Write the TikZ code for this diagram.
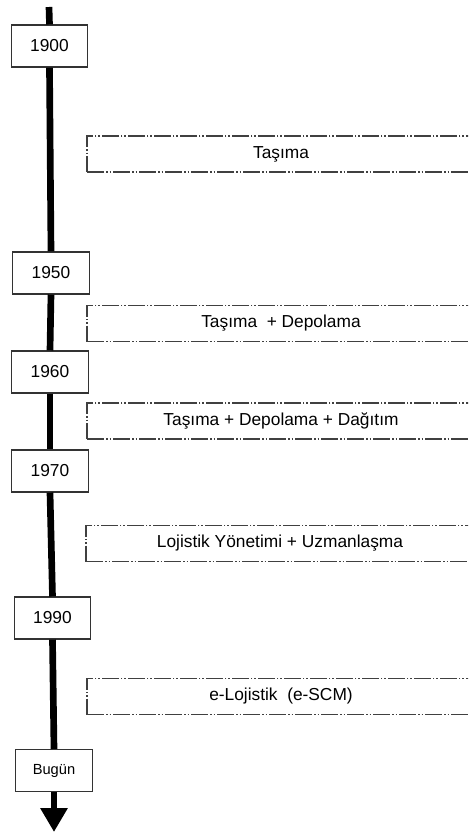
\documentclass[tikz,border=0pt]{standalone}
\usepackage{fontspec}
\setmainfont{Liberation Sans}
\usetikzlibrary{arrows.meta}
\begin{document}
\begin{tikzpicture}[x=0.75pt,y=-0.75pt,
  yearbox/.style={draw=black!80,line width=0.8pt,fill=white,
    minimum width=57.5pt,minimum height=31.5pt,inner sep=0pt,
    font=\fontsize{13}{15}\selectfont},
  periodbox/.style={draw=black!75,line width=0.9pt,fill=white,
    dash pattern=on 13pt off 1.5pt on 1pt off 1.5pt on 1pt off 1.5pt,
    minimum width=291pt,minimum height=27pt,inner sep=0pt,
    font=\fontsize{13}{15}\selectfont},
  timeline/.style={line width=5pt,black}]
\useasboundingbox (0,0) rectangle (468,832);
\clip (0,0) rectangle (468,832);

% time axis ends
\coordinate (top) at (49,7);
\coordinate (tip) at (54,832);

% year markers
\node[yearbox] (y1900) at (49.5,46) {1900};
\node[yearbox] (y1950) at (51,273) {1950};
\node[yearbox] (y1960) at (50,372) {1960};
\node[yearbox] (y1970) at (50,471) {1970};
\node[yearbox] (y1990) at (52.5,618) {1990};
\node[yearbox,font=\fontsize{11}{13}\selectfont] (today) at (54,770.5) {Bugün};

% axis segments between the markers
\draw[timeline] (top) -- (y1900.north);
\draw[timeline] (y1900.south) -- (y1950.north);
\draw[timeline] (y1950.south) -- (y1960.north);
\draw[timeline] (y1960.south) -- (y1970.north);
\draw[timeline] (y1970.south) -- (y1990.north);
\draw[timeline] (y1990.south) -- (today.north);
\draw[timeline,-{Triangle[width=19.5pt,length=18pt]}] (today.south) -- (tip);

% periods
\node[periodbox] (p1) at (281,154) {Taşıma};
\node[periodbox] (p2) at (281,323.5) {Taşıma \ + Depolama};
\node[periodbox] (p3) at (281,421) {Taşıma + Depolama + Dağıtım};
\node[periodbox] (p4) at (280,543.5) {Lojistik Yönetimi + Uzmanlaşma};
\node[periodbox] (p5) at (281,696.5) {e-Lojistik \ (e-SCM)};
\end{tikzpicture}
\end{document}
